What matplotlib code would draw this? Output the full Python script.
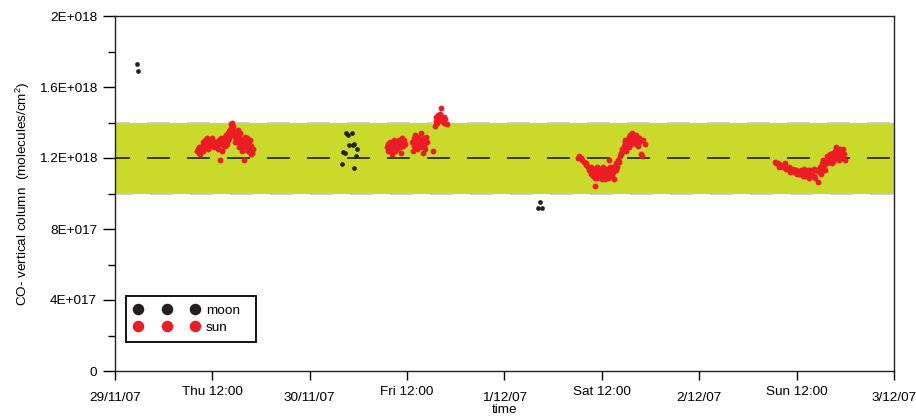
import matplotlib
matplotlib.use("Agg")
import matplotlib.pyplot as plt
from matplotlib.lines import Line2D

plt.rcParams['font.family'] = ['Liberation Sans', 'DejaVu Sans']
plt.rcParams['mathtext.fontset'] = 'custom'
plt.rcParams['mathtext.rm'] = 'Liberation Sans'
plt.rcParams['mathtext.it'] = 'Liberation Sans:italic'

# ---- data (time in hours since 29/11/07 00:00, CO column in 1E+018 molecules/cm2) ----
moon_t = [2.7, 2.8, 27.98, 28.10, 28.35, 28.47, 28.72, 28.84, 29.21, 29.33, 29.45, 29.82, 29.70, 29.45,
          52.38, 52.13, 52.62]
moon_v = [1.73, 1.69, 1.166, 1.235, 1.228, 1.34, 1.33, 1.273, 1.343, 1.273, 1.279, 1.25, 1.21, 1.144,
          0.954, 0.918, 0.918]

sun_thu_t = [10.1, 10.2, 10.3, 10.4, 10.5, 10.6, 10.7, 10.8, 10.9, 11.0, 11.1, 11.2, 11.3, 11.4, 11.5, 11.6,
             11.8, 11.9, 12.0, 12.1, 12.2, 12.5, 12.6, 12.7, 12.8, 12.9, 13.0, 13.1, 13.2, 13.3, 13.4,
             13.5, 13.6, 13.7, 13.8, 13.9, 14.0, 14.1, 14.2, 14.3, 14.35, 14.45, 14.5, 14.6, 14.7, 14.8,
             14.9, 15.0, 15.1, 15.2, 15.3, 15.4, 15.5, 15.6, 15.7, 15.8, 15.9, 16.0, 16.1, 16.2, 16.3,
             16.4, 16.5, 16.6, 16.7, 16.8, 16.9, 17.0, 13.6, 13.9, 14.2, 14.5, 14.8, 15.1, 15.4, 16.3, 16.6]
sun_thu_v = [1.24, 1.25, 1.23, 1.26, 1.22, 1.25, 1.27, 1.24, 1.29, 1.26, 1.30, 1.27, 1.31, 1.28, 1.25, 1.29,
             1.27, 1.30, 1.31, 1.28, 1.26, 1.29, 1.27, 1.25, 1.30, 1.19, 1.28, 1.31, 1.24, 1.29, 1.27,
             1.32, 1.30, 1.33, 1.28, 1.34, 1.31, 1.35, 1.33, 1.37, 1.39, 1.40, 1.36, 1.38, 1.34, 1.32,
             1.35, 1.30, 1.33, 1.29, 1.26, 1.31, 1.28, 1.24, 1.30, 1.27, 1.19, 1.32, 1.29, 1.26, 1.31,
             1.24, 1.28, 1.25, 1.22, 1.27, 1.23, 1.25, 1.27, 1.30, 1.36, 1.33, 1.29, 1.36, 1.34, 1.28, 1.30]

sun_fri_t = [33.5, 33.6, 33.7, 33.8, 33.9, 34.0, 34.1, 34.2, 34.3, 34.4, 34.5, 34.6, 34.7, 34.8, 34.9,
             35.0, 35.1, 35.2, 35.3, 35.4, 35.5, 35.6, 35.7,
             36.6, 36.7, 36.8, 36.9, 37.0, 37.1, 37.2, 37.3, 37.4, 37.5, 37.6, 37.7, 37.8, 37.9, 38.0,
             38.1, 38.2, 38.3, 38.4,
             39.2, 39.4, 39.5, 39.6, 39.7, 39.8, 39.9, 40.0, 40.2, 40.3, 40.5, 40.6, 40.7, 40.9]
sun_fri_v = [1.26, 1.28, 1.24, 1.27, 1.29, 1.25, 1.22, 1.28, 1.26, 1.30, 1.24, 1.27, 1.29, 1.25, 1.28,
             1.30, 1.26, 1.23, 1.29, 1.31, 1.27, 1.30, 1.28,
             1.29, 1.24, 1.31, 1.27, 1.33, 1.29, 1.25, 1.32, 1.28, 1.30, 1.26, 1.34, 1.29, 1.23, 1.31,
             1.27, 1.25, 1.32, 1.29,
             1.24, 1.38, 1.41, 1.43, 1.40, 1.44, 1.42, 1.45, 1.48, 1.41, 1.43, 1.40, 1.42, 1.39]

sun_sat_t = [57.0, 57.2, 57.4, 57.6, 57.8, 58.0, 58.1, 58.3, 58.4, 58.5, 58.6, 58.7, 58.8, 58.9, 59.0,
             59.1, 59.2, 59.3, 59.4, 59.5, 59.6, 59.7, 59.8, 59.9, 60.0, 60.1, 60.2, 60.3, 60.4, 60.5,
             60.6, 60.7, 60.8, 60.9, 61.0, 61.1, 61.2, 61.3, 61.4, 61.5, 61.6, 61.7, 61.8, 61.9, 62.0,
             62.1, 62.2, 62.3, 62.4, 62.5, 62.6, 62.7, 62.8, 62.9, 63.0, 63.1, 63.2, 63.3, 63.4, 63.5,
             63.6, 63.7, 63.8, 63.9, 64.0, 64.1, 64.2, 64.4, 64.5, 64.6, 64.8, 64.9, 65.1, 65.3,
             58.6, 59.0, 59.4, 59.8, 60.2, 60.6, 61.0, 61.4, 59.2, 59.6, 60.0, 60.8, 61.2,
             63.0, 63.3, 62.8, 63.6, 64.2, 64.6]
sun_sat_v = [1.20, 1.21, 1.20, 1.19, 1.18, 1.17, 1.16, 1.15, 1.13, 1.14, 1.12, 1.11, 1.13, 1.10, 1.12,
             1.04, 1.11, 1.13, 1.09, 1.12, 1.14, 1.11, 1.10, 1.13, 1.12, 1.09, 1.11, 1.14, 1.08, 1.12,
             1.10, 1.13, 1.11, 1.19, 1.12, 1.14, 1.11, 1.13, 1.12, 1.08, 1.15, 1.13, 1.17, 1.15, 1.19,
             1.18, 1.21, 1.23, 1.22, 1.25, 1.24, 1.27, 1.26, 1.29, 1.28, 1.30, 1.27, 1.32, 1.29, 1.33,
             1.31, 1.34, 1.30, 1.32, 1.29, 1.31, 1.28, 1.30, 1.27, 1.29, 1.22, 1.21, 1.30, 1.28,
             1.15, 1.14, 1.15, 1.14, 1.15, 1.14, 1.15, 1.15, 1.09, 1.10, 1.08, 1.09, 1.10,
             1.24, 1.26, 1.30, 1.28, 1.33, 1.31]

sun_sun_t = [81.3, 81.5, 81.7, 81.9, 82.1, 82.3, 82.5, 82.7, 82.9, 83.1, 83.3, 83.5, 83.7, 83.9, 84.1,
             84.3, 84.5, 84.7, 84.9, 85.0, 85.2, 85.4, 85.5, 85.7, 85.9, 86.1, 86.2, 86.4, 86.6, 86.8,
             86.9, 87.0, 87.1, 87.2, 87.3, 87.4, 87.6, 87.7, 87.8, 88.0, 88.1, 88.2, 88.4, 88.5, 88.7,
             88.8, 88.9, 89.0, 89.2, 89.3, 89.4, 89.5, 89.6, 89.8, 89.9,
             81.8, 82.6, 83.2, 84.0, 84.8, 85.6, 86.3, 87.5, 88.3, 88.6, 89.1, 89.7]
sun_sun_v = [1.18, 1.17, 1.17, 1.16, 1.16, 1.15, 1.15, 1.14, 1.14, 1.15, 1.13, 1.14, 1.12, 1.13, 1.12,
             1.11, 1.13, 1.12, 1.14, 1.10, 1.12, 1.13, 1.09, 1.11, 1.12, 1.10, 1.14, 1.13, 1.065, 1.12,
             1.15, 1.11, 1.17, 1.14, 1.19, 1.16, 1.18, 1.21, 1.17, 1.20, 1.22, 1.19, 1.21, 1.23, 1.24,
             1.20, 1.26, 1.22, 1.19, 1.21, 1.25, 1.23, 1.20, 1.22, 1.19,
             1.15, 1.17, 1.12, 1.11, 1.10, 1.13, 1.09, 1.13, 1.17, 1.19, 1.25, 1.25]

band_low, band_high, band_mid = 1.0, 1.4, 1.2

xtick_major = [0, 24, 48, 72, 96]
xtick_major_labels = ['29/11/07', '30/11/07', '1/12/07', '2/12/07', '3/12/07']
xtick_minor = [12, 36, 60, 84]
xtick_minor_labels = ['Thu 12:00', 'Fri 12:00', 'Sat 12:00', 'Sun 12:00']
ytick_major = [0, 0.4, 0.8, 1.2, 1.6, 2.0]
ytick_labels = ['0', '4E+017', '8E+017', '1.2E+018', '1.6E+018', '2E+018']
ytick_minor = [0.2, 0.6, 1.0, 1.4, 1.8]

RED = '#EC1C24'
BLACK = '#231F20'
BAND = '#C9DA2B'

fig = plt.figure(figsize=(9.16, 4.16), dpi=100)
ax = fig.add_axes([115/916, 45/416, 779/916, 355/416])


def dash_style(lw, offset_px=8):
    px = 0.72
    return (offset_px*px/lw, (23*px/lw, 17*px/lw))


ax.axhspan(band_low, band_high, color=BAND, lw=0, zorder=0.5)
ax.axhline(band_high, color='#C6C6C6', lw=1.2, linestyle=dash_style(1.2, 8), zorder=0.8)
ax.axhline(band_low, color='#C6C6C6', lw=1.2, linestyle=dash_style(1.2, 5), zorder=0.8)
ax.axhline(band_mid, color='#2E2E18', lw=1.3, linestyle=dash_style(1.3), zorder=1)

sun_t = sun_thu_t + sun_fri_t + sun_sat_t + sun_sun_t
sun_v = sun_thu_v + sun_fri_v + sun_sat_v + sun_sun_v
ax.plot(sun_t, sun_v, 'o', ms=4.2, mec='none', color=RED, zorder=3)
ax.plot(moon_t, moon_v, 'o', ms=3.4, mec='none', color=BLACK, zorder=3)

ax.set_xlim(0, 96)
ax.set_ylim(0, 2.0)

ax.set_xticks(xtick_major)
ax.set_xticklabels(xtick_major_labels)
ax.set_xticks(xtick_minor, minor=True)
ax.set_xticklabels(xtick_minor_labels, minor=True)
ax.tick_params(axis='x', which='major', direction='out', length=6.5, width=1, pad=8.6,
               labelsize=9.7, colors='black')
ax.tick_params(axis='x', which='minor', direction='out', length=6.5, width=1, pad=4.3,
               labelsize=9.7, colors='black')

ax.set_yticks(ytick_major)
ax.set_yticklabels(ytick_labels)
ax.set_yticks(ytick_minor, minor=True)
ax.tick_params(axis='y', which='major', direction='out', length=8.5, width=1, pad=4.3,
               labelsize=9.7, colors='black')
ax.tick_params(axis='y', which='minor', direction='out', length=5, width=1)

for s in ax.spines.values():
    s.set_linewidth(1.0)
    s.set_color('#222222')

ax.set_xlabel('time', fontsize=9.7, labelpad=0)
ax.set_ylabel('CO- vertical column  (molecules/cm$^{2}$)', fontsize=9.7)
ax.yaxis.set_label_coords(-0.107, 0.5)

handles = [Line2D([], [], ls='none', marker='o', ms=8.3, mec='none', color=BLACK),
           Line2D([], [], ls='none', marker='o', ms=8.3, mec='none', color=RED)]
leg = ax.legend(handles, ['moon', 'sun'], numpoints=3, loc='upper left',
                bbox_to_anchor=(11/779, (371-296)/355 - 0.01, 130/779, 0.01), mode='expand',
                fontsize=9.7, handlelength=4.84, handletextpad=0.5, labelspacing=0.35,
                borderpad=0.6, borderaxespad=0, fancybox=False, framealpha=1)
leg.get_frame().set_edgecolor('black')
leg.get_frame().set_linewidth(1.3)

fig.savefig('out.png', dpi=100)
